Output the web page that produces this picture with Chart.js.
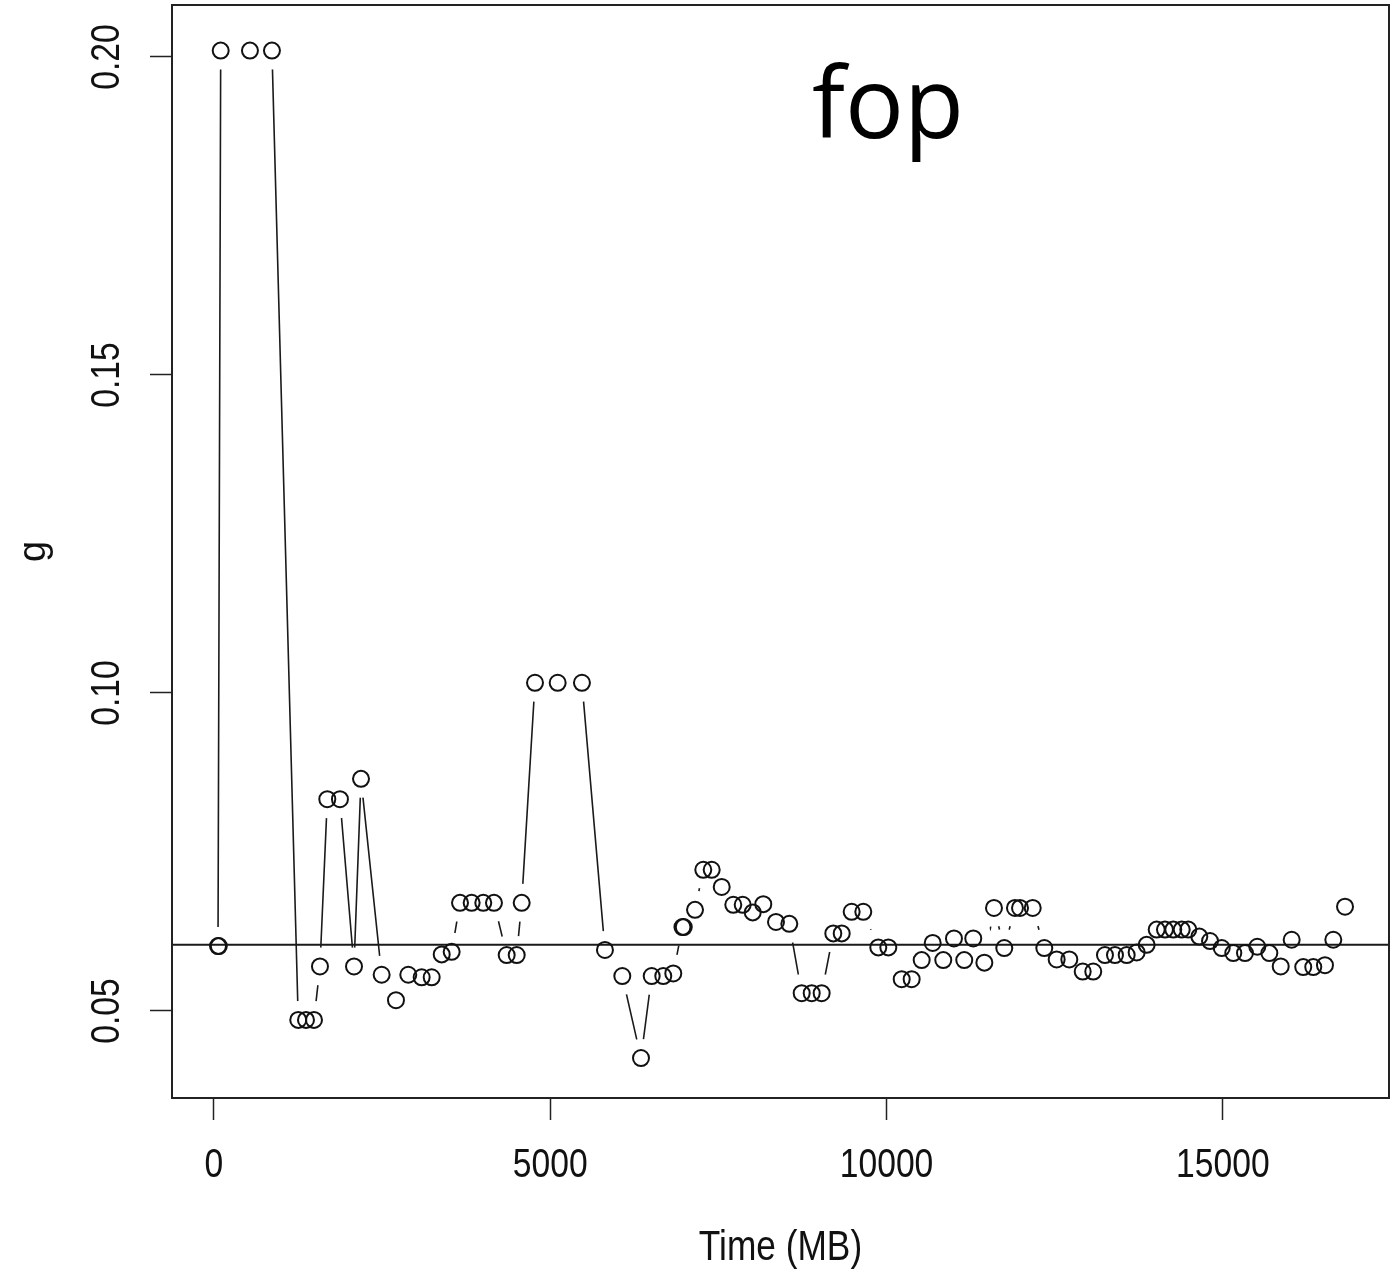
<!DOCTYPE html>
<html>
<head>
<meta charset="utf-8">
<script src="https://cdn.jsdelivr.net/npm/chart.js@4.4.1/dist/chart.umd.min.js"></script>
<style>
  html, body { margin: 0; padding: 0; background: #fff; }
  #wrap { position: relative; width: 1394px; height: 1278px; }
</style>
</head>
<body>
<div id="wrap"><canvas id="fopChart"></canvas></div>
<script>
// g over time for "fop"
const timeMB = [
  60, 72, 100, 535, 862, 1253, 1368, 1487, 1576, 1685,
  1873, 2082, 2186, 2493, 2706, 2889, 3088, 3237, 3386, 3534,
  3658, 3831, 4004, 4163, 4352, 4501, 4575, 4773, 5110, 5471,
  5813, 6071, 6349, 6508, 6680, 6829, 6965, 6985, 7152, 7275,
  7400, 7549, 7721, 7861, 8010, 8167, 8356, 8554, 8738, 8887,
  9035, 9208, 9333, 9481, 9654, 9877, 10026, 10225, 10373, 10522,
  10686, 10843, 11002, 11155, 11289, 11454, 11597, 11750, 11909, 11984,
  12173, 12345, 12529, 12717, 12916, 13073, 13247, 13396, 13570, 13718,
  13867, 14016, 14139, 14263, 14388, 14486, 14650, 14809, 14983, 15155,
  15329, 15512, 15691, 15860, 16023, 16195, 16344, 16518, 16642, 16816
];
const gValues = [
  0.0602, 0.0602, 0.2010, 0.2010, 0.2010, 0.0486, 0.0486, 0.0486, 0.0570, 0.0833,
  0.0833, 0.0570, 0.0865, 0.0557, 0.0517, 0.0557, 0.0553, 0.0553, 0.0589, 0.0593,
  0.0670, 0.0670, 0.0670, 0.0670, 0.0588, 0.0588, 0.0670, 0.1016, 0.1016, 0.1016,
  0.0596, 0.0555, 0.0426, 0.0555, 0.0555, 0.0559, 0.0632, 0.0632, 0.0659, 0.0722,
  0.0722, 0.0695, 0.0667, 0.0667, 0.0655, 0.0668, 0.0640, 0.0637, 0.0528, 0.0528,
  0.0528, 0.0622, 0.0622, 0.0656, 0.0656, 0.0600, 0.0600, 0.0550, 0.0550, 0.0580,
  0.0607, 0.0580, 0.0614, 0.0580, 0.0614, 0.0576, 0.0662, 0.0599, 0.0662, 0.0662,
  0.0662, 0.0599, 0.0581, 0.0581, 0.0562, 0.0562, 0.0588, 0.0588, 0.0588, 0.0592,
  0.0604, 0.0628, 0.0628, 0.0628, 0.0628, 0.0628, 0.0617, 0.0610, 0.0599, 0.0591,
  0.0591, 0.0601, 0.0591, 0.0570, 0.0612, 0.0569, 0.0569, 0.0572, 0.0612, 0.0664
];
const refLineG = 0.0604;           // horizontal reference line
const xTickValues = [0, 5000, 10000, 15000];
const xTickLabels = ['0', '5000', '10000', '15000'];
const yTickValues = [0.05, 0.10, 0.15, 0.20];
const yTickLabels = ['0.05', '0.10', '0.15', '0.20'];

// axis extents (R style 4% padding)
const X_MIN = -624, X_MAX = 17470;
const Y_MIN = 0.03632, Y_MAX = 0.20817;

const AXIS_FONT = '"Liberation Sans", Arial, sans-serif';
const SQUEEZE = 0.82;   // the original text is horizontally narrow

const points = timeMB.map((t, i) => ({ x: t, y: gValues[i] }));

// squeezed tick labels, x title, plot frame and the "fop" tag
const extrasPlugin = {
  id: 'extras',
  afterDraw(chart) {
    const ctx = chart.ctx;
    const area = chart.chartArea;
    const xScale = chart.scales.x;
    const yScale = chart.scales.y;

    ctx.save();
    ctx.strokeStyle = '#222';
    ctx.lineWidth = 2;
    ctx.strokeRect(area.left, area.top, area.right - area.left, area.bottom - area.top);

    ctx.fillStyle = '#111';
    ctx.textAlign = 'center';
    ctx.textBaseline = 'middle';

    // x tick labels
    ctx.font = '41px ' + AXIS_FONT;
    xTickValues.forEach((v, i) => {
      const px = xScale.getPixelForValue(v);
      ctx.save();
      ctx.translate(px, 1166);
      ctx.scale(SQUEEZE, 1);
      ctx.fillText(xTickLabels[i], 0, 0);
      ctx.restore();
    });

    // y tick labels, rotated like R's default
    yTickValues.forEach((v, i) => {
      const py = yScale.getPixelForValue(v);
      ctx.save();
      ctx.translate(108, py);
      ctx.rotate(-Math.PI / 2);
      ctx.scale(SQUEEZE, 1);
      ctx.fillText(yTickLabels[i], 0, 0);
      ctx.restore();
    });

    // x axis title
    ctx.font = '42px ' + AXIS_FONT;
    ctx.save();
    ctx.translate((area.left + area.right) / 2, 1248);
    ctx.scale(0.84, 1);
    ctx.fillText('Time (MB)', 0, 0);
    ctx.restore();

    ctx.fillStyle = '#000';
    ctx.font = '98px "Open Sans", "Noto Sans", sans-serif';
    ctx.textAlign = 'center';
    ctx.textBaseline = 'alphabetic';
    ctx.fillText('fop', 888, 138);
    ctx.restore();
  }
};

new Chart(document.getElementById('fopChart'), {
  type: 'scatter',
  data: {
    datasets: [
      {
        // connecting line, drawn first
        data: points,
        showLine: true,
        borderColor: '#1a1a1a',
        borderWidth: 1.6,
        pointRadius: 0,
        order: 4
      },
      {
        // white gaps round each point (like R type = "b")
        data: points,
        showLine: false,
        pointRadius: 19,
        pointBackgroundColor: '#fff',
        pointBorderWidth: 0,
        pointBorderColor: 'rgba(0,0,0,0)',
        order: 3
      },
      {
        data: [{ x: X_MIN, y: refLineG }, { x: X_MAX, y: refLineG }],
        showLine: true,
        borderColor: '#1a1a1a',
        borderWidth: 2,
        pointRadius: 0,
        order: 2
      },
      {
        data: points,
        showLine: false,
        pointRadius: 8,
        pointBackgroundColor: 'rgba(0,0,0,0)',
        pointBorderColor: '#111',
        pointBorderWidth: 2,
        order: 1
      }
    ]
  },
  options: {
    responsive: true,
    maintainAspectRatio: false,
    animation: false,
    events: [],
    layout: {
      autoPadding: false,
      padding: { top: 5, right: 5, left: 0, bottom: 0 }
    },
    plugins: {
      legend: { display: false },
      tooltip: { enabled: false }
    },
    scales: {
      x: {
        type: 'linear',
        min: X_MIN,
        max: X_MAX,
        afterBuildTicks: s => { s.ticks = xTickValues.map(v => ({ value: v })); },
        afterFit: s => { s.height = 180; },
        border: { display: false },
        grid: {
          drawOnChartArea: false,
          drawTicks: true,
          tickLength: 22,
          tickColor: '#222',
          tickWidth: 1.5
        },
        ticks: {
          color: 'rgba(0,0,0,0)',
          maxRotation: 0,
          padding: 0,
          font: { size: 1 }
        }
      },
      y: {
        type: 'linear',
        min: Y_MIN,
        max: Y_MAX,
        afterBuildTicks: s => { s.ticks = yTickValues.map(v => ({ value: v })); },
        afterFit: s => { s.width = 172; },
        border: { display: false },
        grid: {
          drawOnChartArea: false,
          drawTicks: true,
          tickLength: 22,
          tickColor: '#222',
          tickWidth: 1.5
        },
        ticks: {
          color: 'rgba(0,0,0,0)',
          padding: 0,
          font: { size: 1 }
        },
        title: {
          display: true,
          text: 'g',
          color: '#111',
          font: { family: AXIS_FONT, size: 38 },
          padding: { top: 12, bottom: 0 }
        }
      }
    }
  },
  plugins: [extrasPlugin]
});
</script>
</body>
</html>
